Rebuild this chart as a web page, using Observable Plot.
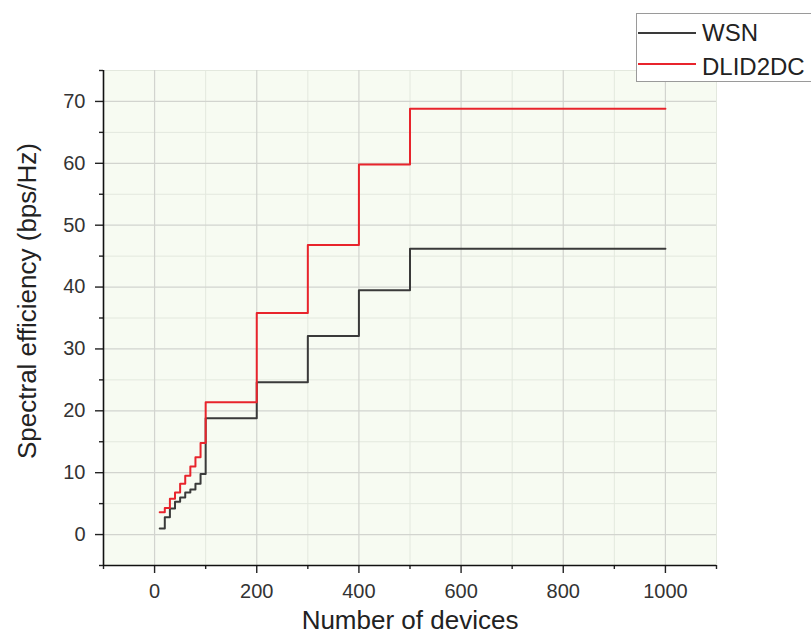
<!DOCTYPE html>
<html>
<head>
<meta charset="utf-8">
<script src="https://cdn.jsdelivr.net/npm/d3@7"></script>
<script src="https://cdn.jsdelivr.net/npm/@observablehq/plot@0.6"></script>
<style>
  html, body { margin: 0; padding: 0; background: #fff; overflow: hidden; }
  #wrap { position: relative; width: 811px; height: 642px; font-family: "Liberation Sans", Arial, sans-serif; }
  #legend { position: absolute; left: 636px; top: 13px; width: 200px; height: 67px; border: 1px solid #9a9a9a; background: #fff; }
  .sw { position: absolute; left: 1px; width: 58px; height: 2px; }
  .lb { position: absolute; left: 65px; font-size: 24px; color: #222; white-space: nowrap; line-height: 26px; }
</style>
</head>
<body>
<div id="wrap"></div>
<script>
const seriesNames = ["WSN", "DLID2DC"];
const seriesColors = ["#3a3a3a", "#e8242c"];
const devices = [10, 20, 30, 40, 50, 60, 70, 80, 90, 100, 200, 300, 400, 500, 1000];
const wsn =     [1.0, 2.8, 4.2, 5.3, 6.0, 6.8, 7.3, 8.2, 9.8, 18.8, 24.6, 32.1, 39.5, 46.2, 46.2];
const dlid =    [3.6, 4.3, 5.8, 6.8, 8.2, 9.5, 11.0, 12.5, 14.8, 21.4, 35.8, 46.8, 59.8, 68.8, 68.8];
const xMajor = [0, 200, 400, 600, 800, 1000];
const xMinor = [-100, 100, 300, 500, 700, 900, 1100];
const yMajor = [0, 10, 20, 30, 40, 50, 60, 70];
const yMinor = [-5, 5, 15, 25, 35, 45, 55, 65, 75];
const xTitle = "Number of devices";
const yTitle = "Spectral efficiency (bps/Hz)";

const rows = [];
devices.forEach((d, i) => rows.push({x: d, y: wsn[i], s: seriesNames[0]}));
devices.forEach((d, i) => rows.push({x: d, y: dlid[i], s: seriesNames[1]}));

const chart = Plot.plot({
  width: 811,
  height: 642,
  marginLeft: 103,
  marginRight: 95,
  marginTop: 70,
  marginBottom: 77,
  style: {fontFamily: "Liberation Sans, Arial, sans-serif", background: "transparent", overflow: "visible"},
  x: {domain: [-100, 1100], axis: null},
  y: {domain: [-5, 75], axis: null},
  color: {domain: seriesNames, range: seriesColors},
  marks: [
    Plot.frame({fill: "#f7fbf2", stroke: null}),
    Plot.gridX(xMinor, {stroke: "#e3e8de", strokeOpacity: 1}),
    Plot.gridY(yMinor, {stroke: "#e3e8de", strokeOpacity: 1}),
    Plot.gridX(xMajor, {stroke: "#d2d4cf", strokeOpacity: 1, strokeWidth: 1.2}),
    Plot.gridY(yMajor, {stroke: "#d2d4cf", strokeOpacity: 1, strokeWidth: 1.2}),
    Plot.line(rows, {x: "x", y: "y", z: "s", stroke: "s", curve: "step-after", strokeWidth: 2}),
    Plot.axisX(xMajor, {tickSize: 8, tickPadding: 10, tickFormat: d => String(d), fontSize: 20, color: "#333", stroke: "#222", strokeWidth: 1.4, label: null}),
    Plot.axisX(xMinor, {tickSize: 4, text: null, stroke: "#222", strokeWidth: 1.4, label: null}),
    Plot.axisY(yMajor, {tickSize: 8, tickPadding: 10, tickFormat: d => String(d), fontSize: 20, color: "#333", stroke: "#222", strokeWidth: 1.4, label: null}),
    Plot.axisY(yMinor, {tickSize: 4, text: null, stroke: "#222", strokeWidth: 1.4, label: null}),
    Plot.ruleY([-5], {stroke: "#111", strokeWidth: 1.6}),
    Plot.ruleX([-100], {stroke: "#111", strokeWidth: 1.6}),
    Plot.text([xTitle], {frameAnchor: "bottom", dy: 63, fontSize: 26, fill: "#222"}),
    Plot.text([yTitle], {frameAnchor: "left", textAnchor: "middle", dx: -76, dy: -17, rotate: -90, fontSize: 26, fill: "#222"})
  ]
});

const wrap = document.getElementById("wrap");
wrap.appendChild(chart);

const legend = document.createElement("div");
legend.id = "legend";
const lineTops = [18, 49];
const textTops = [6, 40];
seriesNames.forEach((name, i) => {
  const sw = document.createElement("div");
  sw.className = "sw";
  sw.style.background = seriesColors[i];
  sw.style.top = lineTops[i] + "px";
  const lb = document.createElement("div");
  lb.className = "lb";
  lb.style.top = textTops[i] + "px";
  lb.textContent = name;
  legend.appendChild(sw);
  legend.appendChild(lb);
});
wrap.appendChild(legend);
</script>
</body>
</html>
